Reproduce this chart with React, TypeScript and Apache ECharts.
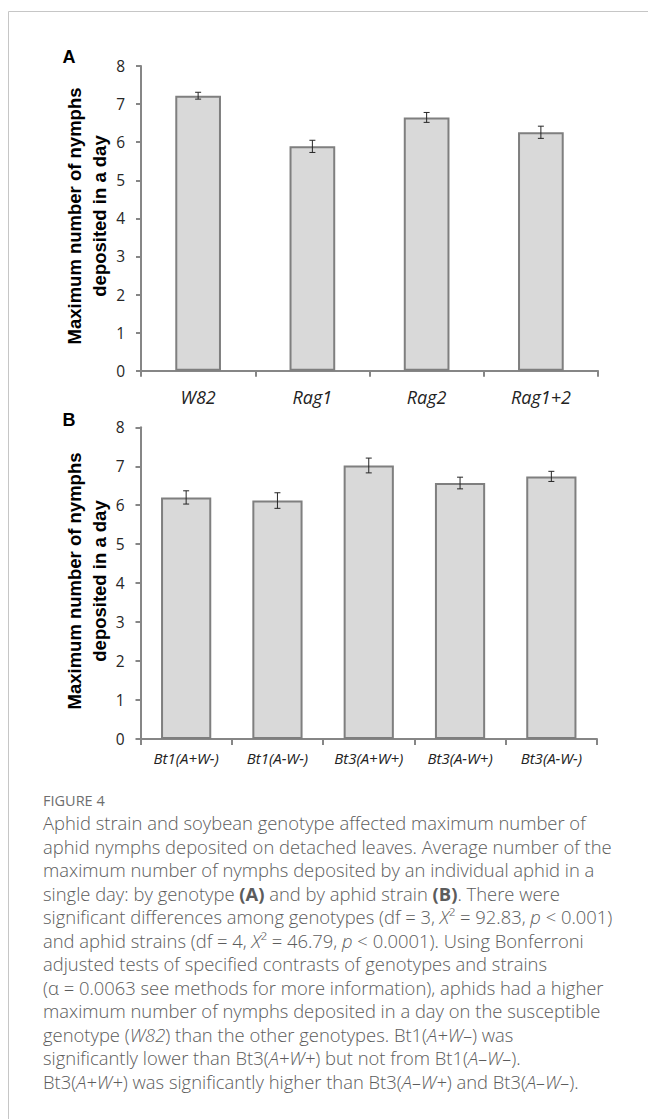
import React, { useEffect, useRef } from "react";
import * as echarts from "echarts";

// ---- Data ----
const genotypes = ["W82", "Rag1", "Rag2", "Rag1+2"];
const genotypeMeans = [7.22, 5.89, 6.65, 6.26];
const genotypeErrors = [0.09, 0.16, 0.13, 0.16];

const strains = ["Bt1(A+W-)", "Bt1(A-W-)", "Bt3(A+W+)", "Bt3(A-W+)", "Bt3(A-W-)"];
const strainMeans = [6.2, 6.12, 7.02, 6.57, 6.74];
const strainErrors = [0.17, 0.2, 0.19, 0.15, 0.13];

const yMin = 0;
const yMax = 8;
const yStep = 1;

const yTitle = "Maximum number of nymphs\ndeposited in a day";
const figureLabel = "FIGURE 4";
const captionLines = [
  "Aphid strain and soybean genotype affected maximum number of",
  "aphid nymphs deposited on detached leaves. Average number of the",
  "maximum number of nymphs deposited by an individual aphid in a",
  "single day: by genotype {b|(A)} and by aphid strain {b|(B)}. There were",
  "significant differences among genotypes (df = 3, {i|X}² = 92.83, {i|p} < 0.001)",
  "and aphid strains (df = 4, {i|X}² = 46.79, {i|p} < 0.0001). Using Bonferroni",
  "adjusted tests of specified contrasts of genotypes and strains",
  "(α = 0.0063 see methods for more information), aphids had a higher",
  "maximum number of nymphs deposited in a day on the susceptible",
  "genotype ({i|W82}) than the other genotypes. Bt1({i|A+W–}) was",
  "significantly lower than Bt3({i|A+W+}) but not from Bt1({i|A–W–}).",
  "Bt3({i|A+W+}) was significantly higher than Bt3({i|A–W+}) and Bt3({i|A–W–}).",
];

const AXIS_COLOR = "#868686";
const LABEL_FONT = "Open Sans";
const CAP_FONT = "Open Sans";
const CAP_SIZE = 18.4;
const CAP_COLOR = "#5c5c5c";

function errorRenderer(params: any, api: any) {
  const i = api.value(0);
  const v = api.value(1);
  const e = api.value(2);
  const top = api.coord([i, v + e]);
  const bot = api.coord([i, v - e]);
  const hw = 3;
  const style = { stroke: "#262626", lineWidth: 1 };
  return {
    type: "group",
    children: [
      { type: "line", shape: { x1: top[0], y1: top[1], x2: bot[0], y2: bot[1] }, style },
      { type: "line", shape: { x1: top[0] - hw, y1: top[1], x2: top[0] + hw, y2: top[1] }, style },
      { type: "line", shape: { x1: bot[0] - hw, y1: bot[1], x2: bot[0] + hw, y2: bot[1] }, style },
    ],
  };
}

function makeXAxis(gridIndex: number, data: string[], fontSize: number, margin: number) {
  return {
    type: "category",
    gridIndex,
    data,
    axisLine: { show: true, lineStyle: { color: AXIS_COLOR, width: 2 } },
    axisTick: { show: true, length: 6, lineStyle: { color: AXIS_COLOR, width: 2 } },
    axisLabel: {
      fontStyle: "italic",
      fontSize,
      fontFamily: LABEL_FONT,
      color: "#222",
      margin,
      interval: 0,
      rotate: 0,
    },
    splitLine: { show: false },
  };
}

function makeYAxis(gridIndex: number) {
  return {
    type: "value",
    gridIndex,
    min: yMin,
    max: yMax,
    interval: yStep,
    axisLine: { show: true, lineStyle: { color: AXIS_COLOR, width: 2 } },
    axisTick: { show: true, length: 5, lineStyle: { color: AXIS_COLOR, width: 2 } },
    axisLabel: { fontSize: 15.5, fontFamily: LABEL_FONT, color: "#262626", margin: 16, rotate: 0 },
    splitLine: { show: false },
  };
}

export default function App() {
  const ref = useRef<HTMLDivElement>(null);

  useEffect(() => {
    document.body.style.margin = "0";
    if (!ref.current) return;
    const chart = echarts.init(ref.current, undefined, { renderer: "svg" });

    const capStyleBase = {
      fontFamily: CAP_FONT,
      fontSize: CAP_SIZE,
      fontWeight: 300,
      color: CAP_COLOR,
      lineHeight: 23.5,
    };

    const option: any = {
      animation: false,
      backgroundColor: "#ffffff",
      grid: [
        { left: 141, top: 66, width: 457, height: 304.7 },
        { left: 140.5, top: 427.3, width: 456.5, height: 311.7 },
      ],
      xAxis: [makeXAxis(0, genotypes, 18, 17), makeXAxis(1, strains, 15, 11)],
      yAxis: [makeYAxis(0), makeYAxis(1)],
      series: [
        {
          type: "bar",
          xAxisIndex: 0,
          yAxisIndex: 0,
          data: genotypeMeans,
          barWidth: "40%",
          itemStyle: { color: "#d9d9d9", borderColor: "#7f7f7f", borderWidth: 2 },
        },
        {
          type: "custom",
          xAxisIndex: 0,
          yAxisIndex: 0,
          renderItem: errorRenderer,
          data: genotypes.map((_, i) => [i, genotypeMeans[i], genotypeErrors[i]]),
          z: 5,
        },
        {
          type: "bar",
          xAxisIndex: 1,
          yAxisIndex: 1,
          data: strainMeans,
          barWidth: "55%",
          itemStyle: { color: "#d9d9d9", borderColor: "#7f7f7f", borderWidth: 2 },
        },
        {
          type: "custom",
          xAxisIndex: 1,
          yAxisIndex: 1,
          renderItem: errorRenderer,
          data: strains.map((_, i) => [i, strainMeans[i], strainErrors[i]]),
          z: 5,
        },
      ],
      graphic: [
        {
          type: "polyline",
          shape: { points: [[8.5, 1119], [8.5, 11.5], [648, 11.5]] },
          style: { stroke: "#c6c6c6", lineWidth: 1, fill: "none" },
          silent: true,
        },
        {
          type: "text",
          x: 69,
          y: 57,
          style: {
            text: "A",
            fontFamily: "Liberation Sans",
            fontWeight: "bold",
            fontSize: 18,
            fill: "#000",
            align: "center",
            verticalAlign: "middle",
          },
        },
        {
          type: "text",
          x: 69,
          y: 420,
          style: {
            text: "B",
            fontFamily: "Liberation Sans",
            fontWeight: "bold",
            fontSize: 18,
            fill: "#000",
            align: "center",
            verticalAlign: "middle",
          },
        },
        {
          type: "text",
          x: 87,
          y: 216,
          rotation: Math.PI / 2,
          style: {
            text: yTitle,
            fontFamily: "Liberation Sans",
            fontWeight: "bold",
            fontSize: 18.5,
            lineHeight: 25,
            fill: "#000",
            align: "center",
            verticalAlign: "middle",
          },
        },
        {
          type: "text",
          x: 87,
          y: 581,
          rotation: Math.PI / 2,
          style: {
            text: yTitle,
            fontFamily: "Liberation Sans",
            fontWeight: "bold",
            fontSize: 18.5,
            lineHeight: 25,
            fill: "#000",
            align: "center",
            verticalAlign: "middle",
          },
        },
        {
          type: "text",
          x: 43,
          y: 800,
          style: {
            text: figureLabel,
            fontFamily: CAP_FONT,
            fontSize: 14.5,
            fill: "#6e6e6e",
            verticalAlign: "middle",
          },
        },
        {
          type: "text",
          x: 43,
          y: 811,
          style: {
            text: captionLines.join("\n"),
            fontFamily: CAP_FONT,
            fontSize: CAP_SIZE,
            fontWeight: 300,
            lineHeight: 23.5,
            fill: CAP_COLOR,
            verticalAlign: "top",
            rich: {
              b: { ...capStyleBase, fontWeight: "bold" },
              i: { ...capStyleBase, fontStyle: "italic" },
            },
          },
        },
      ],
    };

    chart.setOption(option);
    return () => {
      chart.dispose();
    };
  }, []);

  return <div ref={ref} style={{ width: 648, height: 1119 }} />;
}
